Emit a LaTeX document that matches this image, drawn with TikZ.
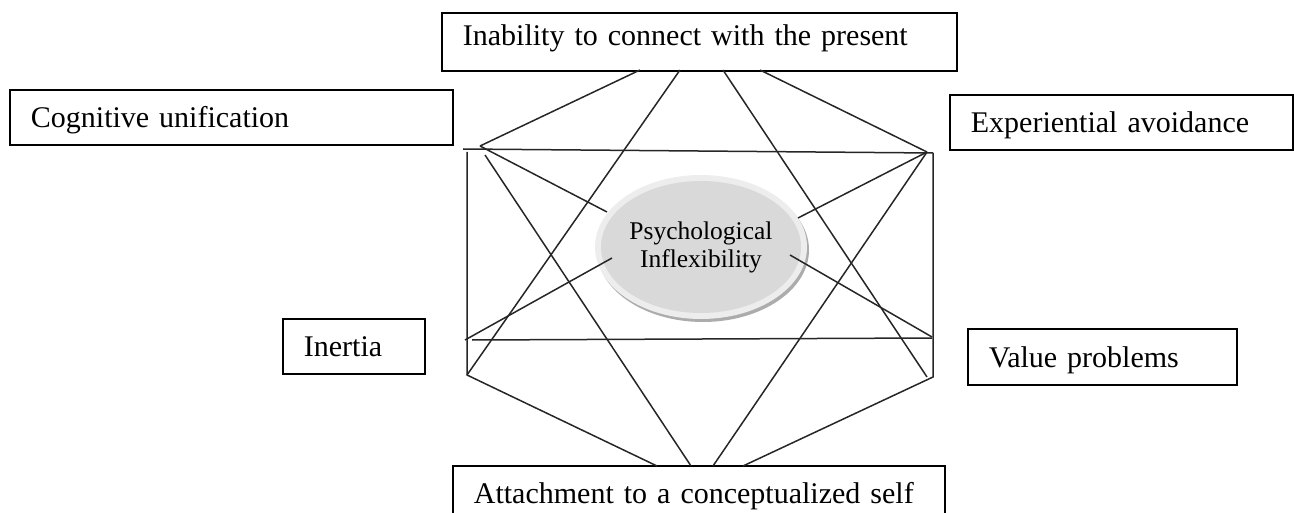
\documentclass[tikz,border=0pt]{standalone}
\usepackage{fontspec}
\setmainfont{Liberation Serif}
\usetikzlibrary{shapes.geometric,shadows}

\begin{document}
\begin{tikzpicture}[x=1pt, y=-1pt,
    main/.style = {draw, line width=1.8pt, rectangle, anchor=north west, inner xsep=21pt, inner ysep=0pt,
        align=left, text height=21pt, text depth=0pt, font=\fontsize{30}{36}\selectfont},
    link/.style = {draw=black!85, line width=1.5pt}]
    \useasboundingbox (0,0) rectangle (1294,513);

    \node[main, minimum height=58pt, text width=473pt, text depth=13pt] (1) at (441,12) {Inability to connect with the present};
    \node[main, minimum height=55pt, text width=401pt] (2) at (9,89)    {Cognitive unification};
    \node[main, minimum height=55pt, text width=301pt] (3) at (949,94)  {Experiential avoidance};
    \node[main, minimum height=55pt, text width=100pt] (4) at (282,318) {Inertia};
    \node[main, minimum height=56pt, text width=227pt] (5) at (967,328) {Value problems};
    \node[main, minimum height=55pt, text width=450pt] (6) at (452,465) {Attachment to a conceptualized self};

    \node[ellipse, minimum width=212pt, minimum height=144pt, fill=gray!14,
        drop shadow={shadow xshift=2pt, shadow yshift=-3pt, fill=gray!65, opacity=1},
        path picture={\fill[gray!30] (path picture bounding box.center) ellipse [x radius=100pt, y radius=66pt];},
        align=center, font=\fontsize{25.5}{28}\selectfont] (7) at (701,247) {Psychological\\Inflexibility};

    \coordinate (t1) at (640,70);  \coordinate (t2) at (680,70);
    \coordinate (t3) at (723,70);  \coordinate (t4) at (760,70);
    \coordinate (b1) at (657,466); \coordinate (b2) at (691,466);
    \coordinate (b3) at (713,466); \coordinate (b4) at (743,466);
    \coordinate (ul) at (480,146); \coordinate (ur) at (927,152);
    \coordinate (h1) at (463,149); \coordinate (h2) at (933,153);
    \coordinate (lv) at (467,152); \coordinate (d1) at (485,155);
    \coordinate (ll) at (467,375); \coordinate (lr) at (933,377);
    \coordinate (u2) at (927,377);
    \coordinate (ml) at (465,340); \coordinate (mr) at (932,337);
    \coordinate (m1) at (472,340); \coordinate (m2) at (932,338);
    \coordinate (e1) at (607,212); \coordinate (e2) at (612,258);
    \coordinate (e3) at (798,218); \coordinate (e4) at (790,255);

    \draw[link] (t1) -- (ul);
    \draw[link] (t4) -- (ur);
    \draw[link] (h1) -- (h2);
    \draw[link] (lv) -- (ll) -- (b1);
    \draw[link] (h2) -- (lr) -- (b4);
    \draw[link] (m1) -- (m2);
    \draw[link] (d1) -- (b2);
    \draw[link] (ur) -- (b3);
    \draw[link] (t2) -- (ll);
    \draw[link] (t3) -- (u2);
    \draw[link] (ul) -- (e1);
    \draw[link] (ml) -- (e2);
    \draw[link] (ur) -- (e3);
    \draw[link] (mr) -- (e4);
\end{tikzpicture}
\end{document}
